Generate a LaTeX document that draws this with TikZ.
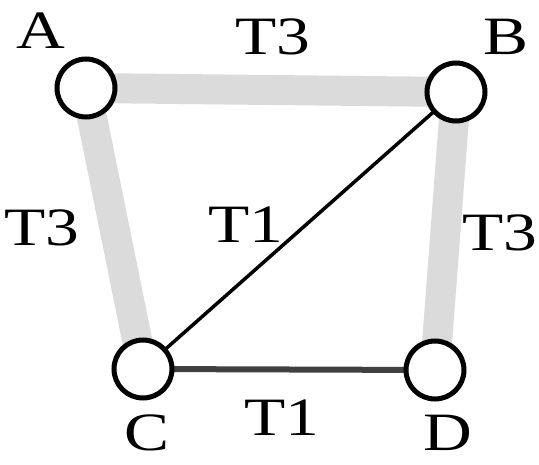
\documentclass[tikz,border=0pt]{standalone}
\usepackage{fontspec}
\setmainfont{Liberation Serif}
\begin{document}
\begin{tikzpicture}[x=1pt,y=-1pt,
  vtx/.style={circle,draw=black,line width=5pt,fill=white,minimum size=58pt,inner sep=0pt},
  heavy/.style={line width=30pt,draw=black!14},
  lbl/.style={font=\fontsize{54}{54}\selectfont,inner sep=0pt,xscale=1.25},
  thinedge/.style={line width=3.5pt,draw=black},
  darkedge/.style={line width=6pt,draw=black!75}]
\useasboundingbox (0,0) rectangle (539,465);
\coordinate (a) at (86,88);
\coordinate (b) at (456,92);
\coordinate (c) at (143,369);
\coordinate (d) at (435,370);
\draw[heavy] (a) -- (b);
\draw[heavy] (a) -- (c);
\draw[heavy] (b) -- (d);
\draw[thinedge] (c) -- (b);
\draw[darkedge] (c) -- (d);
\node[vtx] (A) at (a) {};
\node[vtx] (B) at (b) {};
\node[vtx] (C) at (c) {};
\node[vtx] (D) at (d) {};
\node[lbl] (lA) at (41,31) {A};
\node[lbl] (lB) at (506,37) {B};
\node[lbl,anchor=base] (lC) at (147,450) {C};
\node[lbl,anchor=base] (lD) at (448,450) {D};
\node[lbl] (tAB) at (273,37) {T3};
\node[lbl] (tAC) at (42,228) {T3};
\node[lbl] (tCB) at (246,225) {T1};
\node[lbl] (tBD) at (500,233) {T3};
\node[lbl] (tCD) at (282,418) {T1};
\end{tikzpicture}
\end{document}
